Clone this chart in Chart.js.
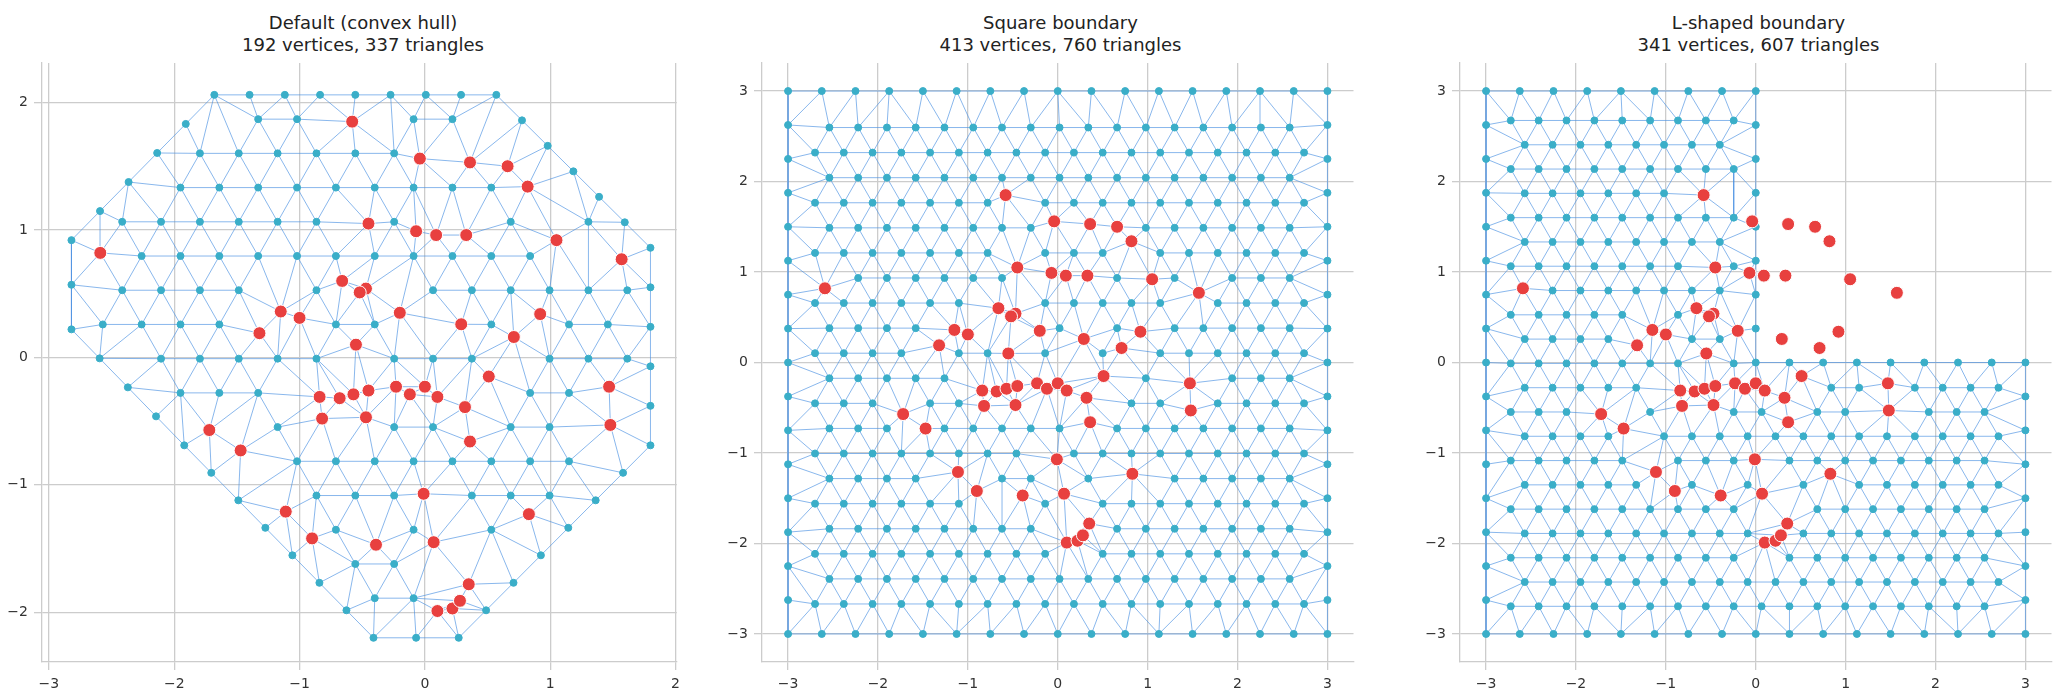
<!DOCTYPE html>
<html><head><meta charset="utf-8">
<script src="https://cdn.jsdelivr.net/npm/chart.js@4"></script>
<style>
body{margin:0;background:#fff;width:2061px;height:697px;overflow:hidden;font-family:"DejaVu Sans",sans-serif}
.p{position:absolute;top:0;height:697px}
.t{position:absolute;top:12px;text-align:center;font-size:18px;line-height:22px;color:#222}
</style></head><body>
<div class="t" style="left:42px;width:642px">Default (convex hull)<br>192 vertices, 337 triangles</div>
<div class="t" style="left:762px;width:597px">Square boundary<br>413 vertices, 760 triangles</div>
<div class="t" style="left:1460px;width:597px">L-shaped boundary<br>341 vertices, 607 triangles</div>
<div class="p" style="left:0;width:686px"><canvas id="c1"></canvas></div>
<div class="p" style="left:715px;width:646px"><canvas id="c2"></canvas></div>
<div class="p" style="left:1410px;width:649px"><canvas id="c3"></canvas></div>
<script>
// data points (red)
const dataX=[-0.58,-0.04,0.36,0.66,0.82,-2.59,-0.45,-0.07,0.09,0.33,1.05,1.57,-0.66,-0.47,-0.52,-0.20,-1.15,-1.0,0.92,0.29,-1.32,0.71,-0.55,0.51,-0.84,-0.68,-0.57,-0.45,-0.23,-0.12,0.0,0.1,0.32,1.47,1.48,-0.82,-0.47,-1.72,-1.47,0.36,-0.01,-1.11,-0.90,0.83,0.07,-0.39,0.35,0.10,0.22,0.28];
const dataY=[1.85,1.56,1.53,1.50,1.34,0.82,1.05,0.99,0.96,0.96,0.92,0.77,0.60,0.54,0.51,0.35,0.36,0.31,0.34,0.26,0.19,0.16,0.10,-0.15,-0.31,-0.32,-0.29,-0.26,-0.23,-0.29,-0.23,-0.31,-0.39,-0.23,-0.53,-0.48,-0.47,-0.57,-0.73,-0.66,-1.07,-1.21,-1.42,-1.23,-1.45,-1.47,-1.78,-1.99,-1.97,-1.91];
// boundaries
const hullX=[-2.82,-1.68,0.57,1.80,1.80,0.27,-0.41,-1.92,-2.82];
const hullY=[0.92,2.06,2.06,0.86,-0.69,-2.2,-2.2,-0.69,0.22];
const squareX=[-3,3,3,-3];
const squareY=[-3,-3,3,3];
const lShapeX=[-3,3,3,0,0,-3];
const lShapeY=[-3,-3,0,0,3,3];
const tickVals=[-3,-2,-1,0,1,2,3];

function poly(xs,ys){return xs.map((x,i)=>[x,ys[i]]);}
function inside(p,P){let c=false;for(let i=0,j=P.length-1;i<P.length;j=i++){const a=P[i],b=P[j];if((a[1]>p[1])!=(b[1]>p[1])&&p[0]<(b[0]-a[0])*(p[1]-a[1])/(b[1]-a[1])+a[0])c=!c;}return c;}
function segDist(p,a,b){const dx=b[0]-a[0],dy=b[1]-a[1];let t=((p[0]-a[0])*dx+(p[1]-a[1])*dy)/(dx*dx+dy*dy);t=Math.max(0,Math.min(1,t));return Math.hypot(p[0]-a[0]-t*dx,p[1]-a[1]-t*dy);}
function bdist(p,P){let d=1e9;for(let i=0;i<P.length;i++)d=Math.min(d,segDist(p,P[i],P[(i+1)%P.length]));return d;}

function delaunay(pts){
  const big=[[-100,-100],[100,-100],[0,100]];
  const all=pts.concat(big);const n=pts.length;
  function circ(t){const [a,b,c]=t.map(i=>all[i]);const d=2*(a[0]*(b[1]-c[1])+b[0]*(c[1]-a[1])+c[0]*(a[1]-b[1]));
    const ux=((a[0]**2+a[1]**2)*(b[1]-c[1])+(b[0]**2+b[1]**2)*(c[1]-a[1])+(c[0]**2+c[1]**2)*(a[1]-b[1]))/d;
    const uy=((a[0]**2+a[1]**2)*(c[0]-b[0])+(b[0]**2+b[1]**2)*(a[0]-c[0])+(c[0]**2+c[1]**2)*(b[0]-a[0]))/d;
    return [ux,uy,(a[0]-ux)**2+(a[1]-uy)**2];}
  let T=[{v:[n,n+1,n+2],c:circ([n,n+1,n+2])}];
  for(let i=0;i<n;i++){const p=all[i];const bad=[],keep=[];
    for(const t of T){if((p[0]-t.c[0])**2+(p[1]-t.c[1])**2<t.c[2])bad.push(t);else keep.push(t);}
    const ec={};for(const t of bad)for(let k=0;k<3;k++){const a=t.v[k],b=t.v[(k+1)%3];const key=a<b?a+','+b:b+','+a;ec[key]=(ec[key]||0)+1;}
    for(const t of bad)for(let k=0;k<3;k++){const a=t.v[k],b=t.v[(k+1)%3];const key=a<b?a+','+b:b+','+a;if(ec[key]==1){const v=[a,b,i];keep.push({v,c:circ(v)});}}
    T=keep;}
  return T.map(t=>t.v).filter(v=>v.every(i=>i<n));
}

function buildMesh(P,bstep,h){
  const pts=[];
  for(let i=0;i<P.length;i++){const a=P[i],b=P[(i+1)%P.length];const L=Math.hypot(b[0]-a[0],b[1]-a[1]);const m=Math.max(1,Math.round(L/bstep));
    for(let k=0;k<m;k++)pts.push([a[0]+(b[0]-a[0])*k/m,a[1]+(b[1]-a[1])*k/m]);}
  const red=[];for(let i=0;i<dataX.length;i++){const p=[dataX[i],dataY[i]];if(inside(p,P)&&bdist(p,P)>0.05)red.push(p);}
  const dy=h*Math.sqrt(3)/2;let r=0;
  for(let y=-3.5;y<3.5;y+=dy,r++)for(let x=-3.5+(r%2)*h/2;x<3.5;x+=h){const p=[x,y];
    if(!inside(p,P)||bdist(p,P)<0.55*h)continue;
    if(red.some(q=>Math.hypot(q[0]-x,q[1]-y)<0.6*h))continue;pts.push(p);}
  const mesh=pts.slice();const all=pts.concat(red);
  const tris=delaunay(all).filter(t=>{const cx=(all[t[0]][0]+all[t[1]][0]+all[t[2]][0])/3,cy=(all[t[0]][1]+all[t[1]][1]+all[t[2]][1])/3;return inside([cx,cy],P);});
  const seen=new Set();const edges=[];
  for(const t of tris)for(let k=0;k<3;k++){const a=t[k],b=t[(k+1)%3];const key=a<b?a+','+b:b+','+a;if(seen.has(key))continue;seen.add(key);
    edges.push({x:all[a][0],y:all[a][1]},{x:all[b][0],y:all[b][1]},{x:null,y:null});}
  return {mesh:mesh.map(p=>({x:p[0],y:p[1]})),edges};
}

const fmt=v=>String(v).replace('-','\u2212');
function make(id,P,bstep,h,xr,yr,padL,ticks){
  const m=buildMesh(P,bstep,h);
  const red=dataX.map((x,i)=>({x,y:dataY[i]}));
  const grid={color:'#cccccc',lineWidth:1.3};
  const tf={family:'DejaVu Sans',size:14};
  new Chart(document.getElementById(id),{type:'scatter',
    data:{datasets:[
      {data:red,backgroundColor:'#e8403f',borderColor:'#ffffff',borderWidth:1,pointRadius:6.5,order:1},
      {data:m.mesh,backgroundColor:'#3aaec8',borderColor:'#3aaec8',pointRadius:3.5,order:2},
      {data:m.edges,showLine:true,spanGaps:false,borderColor:'rgba(74,144,226,0.65)',borderWidth:1,pointRadius:0,order:3}
    ]},
    options:{animation:false,responsive:true,maintainAspectRatio:false,events:[],
      layout:{padding:{left:0,right:0,top:63,bottom:0}},
      plugins:{legend:{display:false},tooltip:{enabled:false}},
      scales:{
        x:{min:xr[0],max:xr[1],afterBuildTicks:a=>{a.ticks=ticks.filter(v=>v>=xr[0]&&v<=xr[1]).map(v=>({value:v}));},
          ticks:{callback:fmt,color:'#333',font:tf,padding:6},grid:grid,border:{color:'#cccccc',width:1.3},
          afterFit:s=>{s.height=35;}},
        y:{min:yr[0],max:yr[1],afterBuildTicks:a=>{a.ticks=ticks.filter(v=>v>=yr[0]&&v<=yr[1]).map(v=>({value:v}));},
          ticks:{callback:fmt,color:'#333',font:tf,padding:6},grid:grid,border:{color:'#cccccc',width:1.3},
          afterFit:s=>{s.width=padL;}}
      }}});
}
make('c1',poly(hullX,hullY),0.3,0.31,[-3.055,2.01],[-2.39,2.31],42,tickVals);
make('c2',poly(squareX,squareY),0.375,0.32,[-3.29,3.29],[-3.31,3.31],47,tickVals);
make('c3',poly(lShapeX,lShapeY),0.375,0.31,[-3.29,3.29],[-3.31,3.31],50,tickVals);
</script></body></html>
